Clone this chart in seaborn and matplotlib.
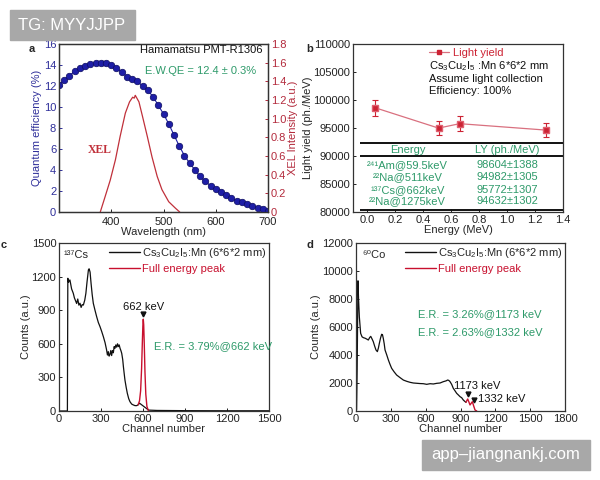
import numpy as np
import pandas as pd
import matplotlib
matplotlib.use("Agg")
import matplotlib.pyplot as plt
import matplotlib.patches as mpatches
from matplotlib.lines import Line2D
from matplotlib.ticker import FuncFormatter
import seaborn as sns

# ---------------- data ----------------
# panel a: PMT quantum efficiency (left axis) and XEL spectrum (right axis)
qe_wavelength = [300, 310, 320, 330, 340, 350, 360, 370, 380, 390, 400, 410, 420, 430, 440,
                 450, 460, 470, 480, 490, 500, 510, 520, 530, 540, 550, 560, 570, 580, 590,
                 600, 610, 620, 630, 640, 650, 660, 670, 680, 690, 700]
qe_values = [12.09, 12.56, 13.0, 13.39, 13.67, 13.92, 14.08, 14.21, 14.21, 14.15, 13.96, 13.67,
             13.35, 12.88, 12.63, 12.44, 11.99, 11.58, 10.98, 10.16, 9.34, 8.39, 7.34, 6.30,
             5.38, 4.65, 4.02, 3.39, 2.91, 2.50, 2.18, 1.87, 1.58, 1.30, 1.08, 0.92, 0.76,
             0.60, 0.41, 0.28, 0.13]
xel_wavelength = [379, 388, 398, 408, 417, 427, 435, 441, 444, 446, 447, 449, 453, 460, 469,
                  478, 488, 497, 510, 523, 531]
xel_values = [0.0, 0.16, 0.34, 0.56, 0.81, 1.06, 1.18, 1.23, 1.22, 1.25, 1.24, 1.22, 1.18,
              1.02, 0.81, 0.59, 0.38, 0.24, 0.11, 0.04, 0.0]

# panel b: light yield vs energy
ly_energy = [0.0595, 0.511, 0.662, 1.275]
ly_values = [98604, 94982, 95772, 94632]
ly_errors = [1388, 1305, 1307, 1302]
table_sources = ["²⁴¹Am@59.5keV", "²²Na@511keV", "¹³⁷Cs@662keV", "²²Na@1275keV"]
table_ly = ["98604±1388", "94982±1305", "95772±1307", "94632±1302"]

# panel c: 137Cs spectrum
cs_channel = [0, 60, 63, 68, 78, 90, 102, 110, 118, 126, 134, 142, 150, 158, 166, 174, 184,
              192, 200, 210, 215, 222, 229, 237, 245, 257, 269, 281, 293, 305, 317, 329, 340,
              346, 352, 358, 364, 370, 376, 382, 388, 394, 400, 406, 412, 418, 424, 430, 436,
              442, 448, 455, 460, 466, 471, 480, 488, 498, 507, 519, 531, 543, 555, 565, 575,
              640, 700, 900, 1200, 1500]
cs_counts = [0, 0, 1185, 1150, 1170, 1090, 1051, 1010, 985, 960, 1000, 945, 962, 925, 950,
             946, 990, 1051, 1150, 1259, 1270, 1240, 1140, 1040, 962, 900, 842, 790, 753,
             710, 663, 610, 545, 500, 530, 490, 505, 540, 495, 540, 520, 575, 560, 590, 570,
             600, 575, 590, 560, 540, 515, 460, 396, 330, 277, 210, 158, 110, 83, 62, 54,
             48, 48, 55, 70, 8, 5, 3, 2, 2]
cs_peak_channel = [565, 575, 583, 590, 595, 599, 602, 605, 609, 614, 620, 628, 638]
cs_peak_counts = [55, 90, 180, 380, 600, 760, 820, 770, 600, 350, 150, 40, 5]

# panel d: 60Co spectrum
co_channel = [0, 5, 10, 17, 22, 29, 40, 52, 63, 78, 92, 106, 118, 127, 138, 149, 160, 172,
              184, 193, 201, 211, 221, 228, 235, 243, 250, 265, 279, 293, 307, 328, 350, 380,
              408, 437, 465, 494, 523, 552, 580, 609, 638, 666, 695, 724, 752, 775, 790, 800,
              810, 824, 838, 852, 867, 881, 896, 910, 924, 935, 947]
co_counts = [0, 100, 3000, 9300, 8000, 6700, 5550, 5300, 5240, 5200, 5140, 5070, 5250, 5330,
             5150, 4950, 4650, 4360, 4240, 4500, 4830, 5200, 5480, 5450, 5190, 4800, 4360,
             4000, 3640, 3330, 3050, 2800, 2570, 2380, 2210, 2120, 2050, 2000, 1980, 1960,
             1950, 1905, 1950, 1930, 1976, 2000, 2095, 2150, 2214, 2180, 2095, 1900, 1620,
             1450, 1262, 1150, 1024, 950, 786, 700, 619]
co_peak_channel = [947, 955, 962, 972, 982, 992, 1002, 1012, 1025, 1040]
co_peak_counts = [619, 750, 857, 650, 430, 550, 664, 400, 71, 0]

# ---------------- style ----------------
sns.set_theme(style="ticks")
plt.rcParams["font.family"] = ["Liberation Sans", "DejaVu Sans"]
plt.rcParams["mathtext.fontset"] = "custom"
plt.rcParams["mathtext.rm"] = "Liberation Sans"
plt.rcParams["mathtext.it"] = "Liberation Sans:italic"
plt.rcParams["axes.linewidth"] = 0.9
plt.rcParams["axes.edgecolor"] = "#333333"

FS = 8
GREEN = "#2e9a6a"
BLUE = "#1e1ea6"
BLUE_TXT = "#2f2f9a"
DRED = "#b32a3c"
RED = "#c8102e"

fig = plt.figure(figsize=(6, 4.8), dpi=100)


def make_ax(left, top, right, bottom):
    return fig.add_axes([left / 600, 1 - bottom / 480, (right - left) / 600, (bottom - top) / 480])


def style_ax(ax):
    ax.tick_params(axis="both", labelsize=FS, direction="in", length=2.5, width=0.7, pad=2,
                   colors="#222222")
    for s in ax.spines.values():
        s.set_linewidth(0.9)
        s.set_color("#333333")


# ---------------- panel a ----------------
axa = make_ax(59, 44, 268, 212)
dfq = pd.DataFrame({"wl": qe_wavelength, "qe": qe_values})
sns.lineplot(data=dfq, x="wl", y="qe", ax=axa, color=BLUE, lw=0.8, zorder=2)
sns.scatterplot(data=dfq, x="wl", y="qe", ax=axa, color=BLUE, edgecolor="#0c0c60", s=22,
                linewidth=0.5, zorder=3, legend=False)
axa.set_xlim(300, 700)
axa.set_ylim(0, 16)
axa.set_xticks([400, 500, 600, 700])
axa.set_yticks(range(0, 17, 2))
style_ax(axa)
axa.tick_params(axis="y", colors=BLUE_TXT)
axa.tick_params(axis="x", pad=3.5)
axa.set_ylabel("Quantum efficiency (%)", fontsize=FS, color=BLUE_TXT, labelpad=1)
axa.text(0.975, 0.965, "Hamamatsu PMT-R1306", transform=axa.transAxes, fontsize=FS,
         color="#111111", va="center", ha="right")
axa.text(0.41, 0.84, "E.W.QE = 12.4 ± 0.3%", transform=axa.transAxes, fontsize=FS,
         color=GREEN, va="center", ha="left")

axa2 = axa.twinx()
dfx = pd.DataFrame({"wl": xel_wavelength, "xel": xel_values})
sns.lineplot(data=dfx, x="wl", y="xel", ax=axa2, color="#c0303a", lw=0.9)
axa2.set_ylim(0, 1.8)
axa2.set_yticks(np.arange(0, 1.81, 0.2))
axa2.yaxis.set_major_formatter(FuncFormatter(lambda v, p: "0" if abs(v) < 1e-9 else f"{v:.1f}"))
axa2.tick_params(axis="y", labelsize=FS, direction="in", length=2.5, width=0.7, pad=2,
                 colors=DRED)
axa2.set_ylabel("XEL Intensity (a.u.)", fontsize=FS, color=DRED, labelpad=1)
axa2.set_xlabel("")
axa.set_xlabel("Wavelength (nm)", fontsize=FS, labelpad=0)
axa.text(379, 5.9, "XEL", fontsize=8.5, color="#c0303a", fontweight="bold",
         family=["Liberation Serif", "DejaVu Serif"], ha="center", va="center")

# ---------------- panel b ----------------
axb = make_ax(353, 44, 563, 212)
dfl = pd.DataFrame({"E": ly_energy, "LY": ly_values})
sns.lineplot(data=dfl, x="E", y="LY", ax=axb, color="#d9707f", lw=0.9, zorder=2)
axb.errorbar(ly_energy, ly_values, yerr=ly_errors, fmt="s", color="#cc2233", ms=4,
             ecolor="#cc2233", elinewidth=0.8, capsize=2, capthick=0.8, zorder=3,
             mfc="#cc2233", mec="#e06070")
axb.set_xlim(-0.1, 1.4)
axb.set_ylim(80000, 110000)
axb.set_xticks(np.arange(0, 1.41, 0.2))
axb.xaxis.set_major_formatter(FuncFormatter(lambda v, p: f"{v:.1f}"))
axb.set_yticks(range(80000, 110001, 5000))
style_ax(axb)
axb.set_xlabel("Energy (MeV)", fontsize=FS, labelpad=0)
axb.set_ylabel("Light yield (ph./MeV)", fontsize=FS, labelpad=0)
h_ly = Line2D([], [], color="#d9707f", lw=0.9, marker="s", mfc="#cc2233", mec="#cc2233", ms=3.5)
leg = axb.legend([h_ly], ["Light yield"], loc="center left", bbox_to_anchor=(0.36, 0.945),
                 frameon=False, fontsize=FS, handlelength=1.8, handletextpad=0.4,
                 borderaxespad=0, borderpad=0)
for t in leg.get_texts():
    t.set_color("#cc2233")
axb.text(0.362, 0.871, r"Cs$_3$Cu$_2$I$_5$ :Mn 6*6*2 mm", transform=axb.transAxes,
         fontsize=FS, va="center", color="#111111")
axb.text(0.362, 0.79, "Assume light collection", transform=axb.transAxes, fontsize=FS,
         va="center", color="#111111")
axb.text(0.362, 0.72, "Efficiency: 100%", transform=axb.transAxes, fontsize=FS,
         va="center", color="#111111")
axb.hlines([92300, 90000, 80400], -0.05, 1.4, colors="#111111", lw=1.4, zorder=1)
axb.text(0.29, 91150, "Energy", fontsize=FS, color=GREEN, ha="center", va="center")
axb.text(1.0, 91150, "LY (ph./MeV)", fontsize=FS, color=GREEN, ha="center", va="center")
for yv, src, lyv in zip([88320, 86180, 83980, 81900], table_sources, table_ly):
    axb.text(0.29, yv, src, fontsize=FS, color=GREEN, ha="center", va="center")
    axb.text(1.0, yv, lyv, fontsize=FS, color=GREEN, ha="center", va="center")

# ---------------- panel c ----------------
axc = make_ax(59, 243, 269, 411)
dfc = pd.DataFrame({"ch": cs_channel, "cnt": cs_counts})
dfcp = pd.DataFrame({"ch": cs_peak_channel, "cnt": cs_peak_counts})
sns.lineplot(data=dfc, x="ch", y="cnt", ax=axc, color="#111111", lw=0.9, sort=False)
sns.lineplot(data=dfcp, x="ch", y="cnt", ax=axc, color=RED, lw=1.0, sort=False)
axc.set_xlim(0, 1500)
axc.set_ylim(0, 1500)
axc.set_xticks(range(0, 1501, 300))
axc.set_yticks(range(0, 1501, 300))
style_ax(axc)
axc.set_xlabel("Channel number", fontsize=FS, labelpad=0)
axc.set_ylabel("Counts (a.u.)", fontsize=FS, labelpad=0)
axc.plot([602], [866], marker="v", color="#111111", ms=3.5, ls="none")
axc.text(607, 930, "662 keV", fontsize=FS, ha="center", va="center", color="#111111")
axc.text(676, 580, "E.R. = 3.79%@662 keV", fontsize=FS, ha="left", va="center", color=GREEN)
axc.text(0.02, 0.93, "¹³⁷Cs", transform=axc.transAxes, fontsize=FS, va="center")


def spec_legend(ax):
    hs = [Line2D([], [], color="#111111", lw=1.0), Line2D([], [], color=RED, lw=1.0)]
    lg = ax.legend(hs, [r"Cs$_3$Cu$_2$I$_5$:Mn (6*6*2 mm)", "Full energy peak"],
                   loc="upper right", frameon=False, fontsize=FS, handlelength=2.8,
                   handletextpad=0.2, borderaxespad=0.15, labelspacing=0.35, borderpad=0.1)
    lg.get_texts()[1].set_color(RED)


spec_legend(axc)

# ---------------- panel d ----------------
axd = make_ax(356, 243, 565, 411)
dfd = pd.DataFrame({"ch": co_channel, "cnt": co_counts})
dfdp = pd.DataFrame({"ch": co_peak_channel, "cnt": co_peak_counts})
sns.lineplot(data=dfd, x="ch", y="cnt", ax=axd, color="#111111", lw=0.9, sort=False)
sns.lineplot(data=dfdp, x="ch", y="cnt", ax=axd, color=RED, lw=1.0, sort=False)
axd.set_xlim(0, 1800)
axd.set_ylim(0, 12000)
axd.set_xticks(range(0, 1801, 300))
axd.set_yticks(range(0, 12001, 2000))
style_ax(axd)
axd.set_xlabel("Channel number", fontsize=FS, labelpad=0)
axd.set_ylabel("Counts (a.u.)", fontsize=FS, labelpad=1)
axd.plot([967, 1012], [1190, 786], marker="v", color="#111111", ms=3.5, ls="none")
axd.text(844, 1810, "1173 keV", fontsize=FS, ha="left", va="center", color="#111111")
axd.text(1048, 833, "1332 keV", fontsize=FS, ha="left", va="center", color="#111111")
axd.text(537, 6930, "E.R. = 3.26%@1173 keV", fontsize=FS, ha="left", va="center", color=GREEN)
axd.text(537, 5660, "E.R. = 2.63%@1332 keV", fontsize=FS, ha="left", va="center", color=GREEN)
axd.text(0.03, 0.93, "⁶⁰Co", transform=axd.transAxes, fontsize=FS, va="center")
spec_legend(axd)

# ---------------- panel letters ----------------
for lab, x, y in [("a", 32, 49), ("b", 310, 49), ("c", 4, 245), ("d", 310, 245)]:
    fig.text(x / 600, 1 - y / 480, lab, fontsize=8, fontweight="bold", va="center", ha="center")

# ---------------- watermark boxes ----------------
fig.patches.append(mpatches.Rectangle((10 / 600, 1 - 40 / 480), 125 / 600, 30 / 480,
                                      transform=fig.transFigure, color="#a8a8a8", zorder=10))
fig.text(18 / 600, 1 - 25 / 480, "TG: MYYJJPP", color="white", fontsize=12, va="center",
         ha="left", zorder=11)
fig.patches.append(mpatches.Rectangle((422 / 600, 10 / 480), 168 / 600, 30 / 480,
                                      transform=fig.transFigure, color="#a8a8a8", zorder=10))
fig.text(506 / 600, 25 / 480, "app–jiangnankj.com", color="white", fontsize=12, va="center",
         ha="center", zorder=11)

fig.savefig("out.png", dpi=100)
